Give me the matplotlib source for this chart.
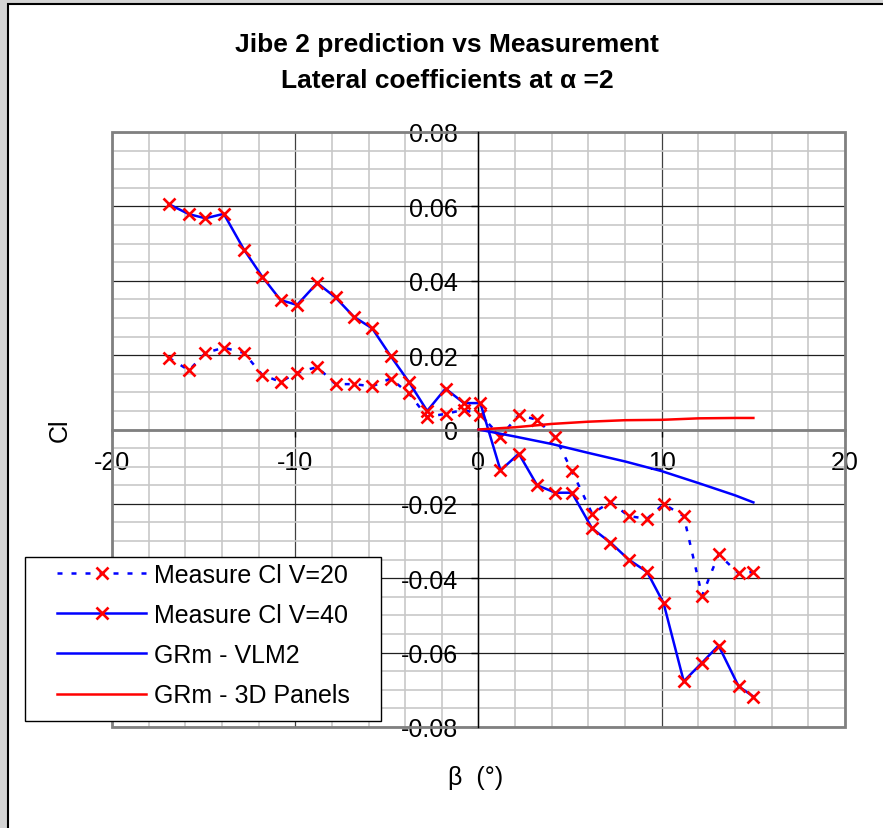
import matplotlib
matplotlib.use('Agg')
import matplotlib.pyplot as plt
from matplotlib.patches import Rectangle
from matplotlib.ticker import MultipleLocator, FuncFormatter

plt.rcParams['font.family'] = ['Liberation Sans', 'DejaVu Sans']
plt.rcParams['axes.unicode_minus'] = False

# measured side-slip angles (deg)
beta = [-16.9, -15.8, -14.9, -13.9, -12.8, -11.8, -10.8, -9.9, -8.8, -7.8, -6.8,
        -5.8, -4.8, -3.8, -2.8, -1.8, -0.8, 0.1, 1.2, 2.2, 3.2, 4.2, 5.1, 6.2,
        7.2, 8.2, 9.2, 10.1, 11.2, 12.2, 13.1, 14.2, 15.0]
cl_v20 = [0.0193, 0.0159, 0.0206, 0.0220, 0.0206, 0.0147, 0.0128, 0.0153, 0.0168,
          0.0122, 0.0122, 0.0116, 0.0137, 0.0097, 0.0034, 0.0042, 0.0053, 0.0040,
          -0.0019, 0.0039, 0.0026, -0.0021, -0.0112, -0.0226, -0.0195, -0.0233,
          -0.0240, -0.0200, -0.0233, -0.0447, -0.0336, -0.0387, -0.0383]
cl_v40 = [0.0606, 0.0579, 0.0568, 0.0580, 0.0484, 0.0411, 0.0348, 0.0335, 0.0394,
          0.0355, 0.0303, 0.0272, 0.0198, 0.0128, 0.0050, 0.0110, 0.0071, 0.0071,
          -0.0110, -0.0065, -0.0150, -0.0170, -0.0170, -0.0266, -0.0304, -0.0350,
          -0.0383, -0.0467, -0.0677, -0.0627, -0.0581, -0.0691, -0.0718]

# predictions
beta_pred = [0, 2, 4, 6, 8, 10, 12, 14, 15]
cl_vlm2 = [0, -0.0019, -0.0039, -0.0063, -0.0086, -0.0112, -0.0144, -0.0177, -0.0196]
cl_panels = [0, 0.0006, 0.0015, 0.0021, 0.0025, 0.0026, 0.0030, 0.0031, 0.0031]

labels = ['Measure Cl V=20', 'Measure Cl V=40', 'GRm - VLM2', 'GRm - 3D Panels']

W, H = 883, 829
fig = plt.figure(figsize=(W / 100, H / 100), dpi=100, facecolor='#d4d4d4')

# white chart area with black edge (gray strip left/top)
fig.patches.append(Rectangle((8 / W, -0.1), 1.2, 1.1 - 4.5 / H, transform=fig.transFigure,
                             facecolor='white', edgecolor='black', lw=1.5, zorder=-1))

ax = fig.add_axes([112 / W, 1 - 728 / H, (845 - 112) / W, (728 - 133) / H])
ax.set_xlim(-20, 20)
ax.set_ylim(-0.08, 0.08)

ax.xaxis.set_major_locator(MultipleLocator(10))
ax.xaxis.set_minor_locator(MultipleLocator(2))
ax.yaxis.set_major_locator(MultipleLocator(0.02))
ax.yaxis.set_minor_locator(MultipleLocator(0.005))
ax.yaxis.set_major_formatter(FuncFormatter(lambda v, p: '0' if abs(v) < 1e-9 else f'{v:.2f}'))
ax.xaxis.set_major_formatter(FuncFormatter(lambda v, p: f'{v:.0f}'))

ax.grid(which='minor', color='#c8c8c8', lw=1.2)
ax.grid(which='major', axis='y', color='#202020', lw=0.9)
ax.grid(which='major', axis='x', color='#404040', lw=0.9)
ax.set_axisbelow(True)

ax.spines['left'].set_position(('data', 0))
ax.spines['bottom'].set_position(('data', 0))
ax.spines['left'].set_color('black')
ax.spines['left'].set_lw(1)
ax.spines['bottom'].set_color('#808080')
ax.spines['bottom'].set_lw(2)
ax.spines['right'].set_visible(False)
ax.spines['top'].set_visible(False)
ax.add_patch(Rectangle((0, 0), 1, 1, transform=ax.transAxes, fill=False,
                       edgecolor='#808080', lw=2, zorder=1, clip_on=False))

ax.tick_params(which='major', direction='out', length=5, width=1, labelsize=18, pad=10)
ax.tick_params(which='minor', length=0)

ax.plot(beta, cl_v20, color='blue', lw=1.8, dashes=(2, 3.6), marker='x', ms=9, mew=1.9,
        mec='red', label=labels[0], zorder=3)
ax.plot(beta, cl_v40, color='blue', lw=1.8, marker='x', ms=9, mew=1.9, mec='red',
        label=labels[1], zorder=3)
ax.plot(beta_pred, cl_vlm2, color='blue', lw=1.8, label=labels[2], zorder=3)
ax.plot(beta_pred, cl_panels, color='red', lw=1.8, label=labels[3], zorder=3)

fig.text(447 / W, 1 - 45 / H, 'Jibe 2 prediction vs Measurement', ha='center', va='center',
         fontsize=19, fontweight='bold')
fig.text(447 / W, 1 - 81 / H, 'Lateral coefficients at α =2', ha='center', va='center',
         fontsize=19, fontweight='bold')
fig.text(476 / W, 1 - 778 / H, 'β  (°)', ha='center', va='center', fontsize=18)
fig.text(60 / W, 1 - 430 / H, 'Cl', ha='center', va='center', fontsize=18, rotation=90)

# legend box
fig.patches.append(Rectangle((25 / W, 1 - 722 / H), (381 - 25) / W, (722 - 558) / H,
                             transform=fig.transFigure, facecolor='white',
                             edgecolor='black', lw=1, zorder=4))
handles, lbls = ax.get_legend_handles_labels()
fig.legend(handles, lbls, loc='center left', bbox_to_anchor=(57 / W, 1 - 636 / H),
           frameon=False, fontsize=18, borderpad=0, handlelength=3.56,
           handletextpad=0.32, labelspacing=0.65, borderaxespad=0)

fig.savefig('out.png', dpi=100, facecolor=fig.get_facecolor())
